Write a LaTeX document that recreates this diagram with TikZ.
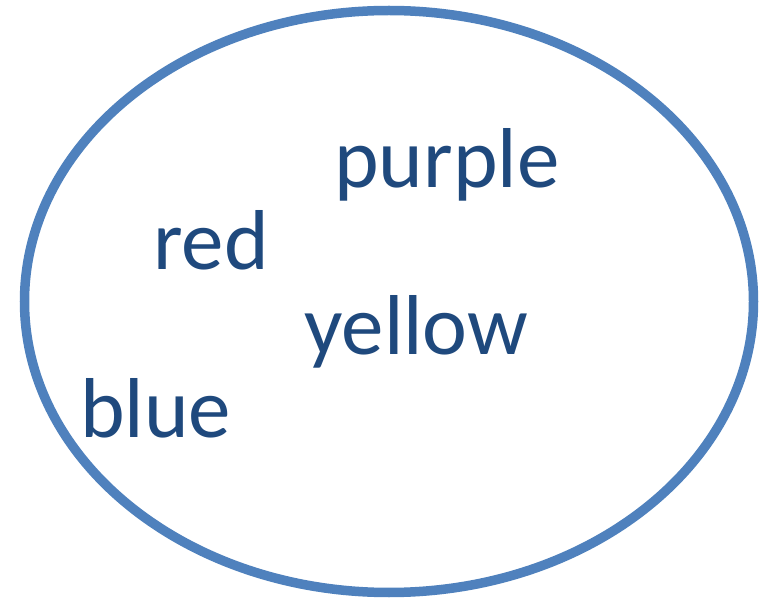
\documentclass[tikz,border=0pt]{standalone}
\usepackage{fontspec}
\setmainfont{Carlito}
\usetikzlibrary{positioning}
\definecolor{ringblue}{HTML}{4F81BD}
\definecolor{wordblue}{HTML}{1F497D}
\tikzset{word/.style={anchor=base west,inner sep=0pt,text=wordblue,font=\fontsize{85}{90}\selectfont}}
\begin{document}
\begin{tikzpicture}[x=1pt,y=-1pt]
\useasboundingbox (0,0) rectangle (764,604);
\draw[ringblue,line width=9.5pt] (389,301.5) ellipse [x radius=364.5,y radius=291];
\node[word] (purple) at (334,188) {purple};
\node[word] (red) at (153,270) {red};
\node[word] (yellow) at (304,355) {yellow};
\node[word] (blue) at (80,438) {blue};
\end{tikzpicture}
\end{document}
